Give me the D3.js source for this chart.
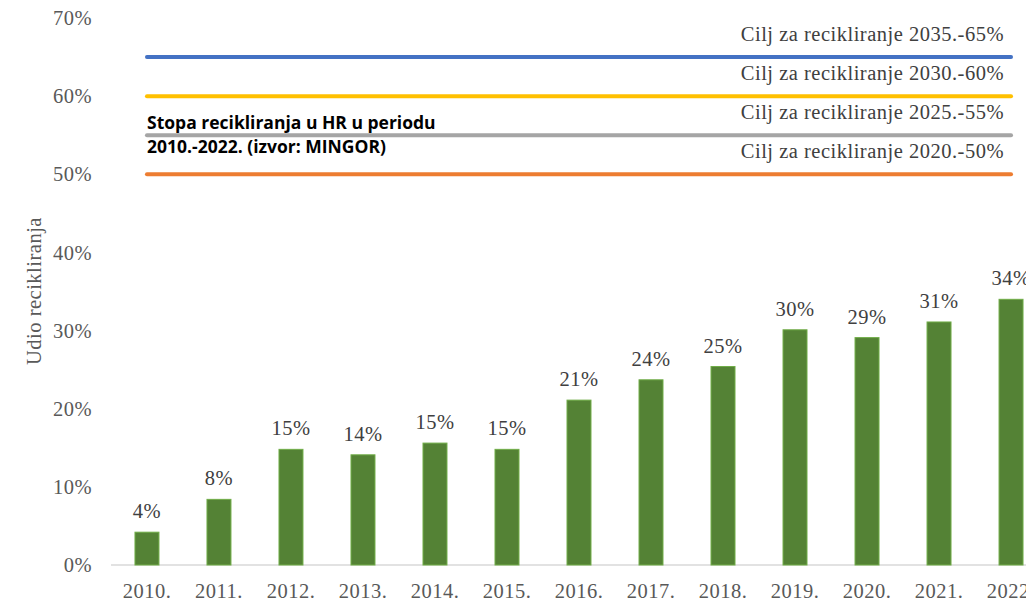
<!DOCTYPE html>
<html><head><meta charset="utf-8">
<script src="https://cdn.jsdelivr.net/npm/d3@7"></script>
<style>body{margin:0;background:#fff}svg{display:block}</style>
</head><body>
<svg id="c" width="1026" height="605"></svg>
<script>
const years = ["2010.","2011.","2012.","2013.","2014.","2015.","2016.","2017.","2018.","2019.","2020.","2021.","2022."];
const rates = [4.2, 8.4, 14.8, 14.1, 15.6, 14.8, 21.1, 23.7, 25.4, 30.1, 29.1, 31.1, 34.0];
const rateLabels = ["4%","8%","15%","14%","15%","15%","21%","24%","25%","30%","29%","31%","34%"];
const targetValues = [65, 60, 55, 50];
const targetLabels = ["Cilj za recikliranje 2035.-65%","Cilj za recikliranje 2030.-60%","Cilj za recikliranje 2025.-55%","Cilj za recikliranje 2020.-50%"];
const targetColors = ["#4472c4","#ffc000","#a5a5a5","#ed7d31"];
const yTicks = [0,10,20,30,40,50,60,70];
const titleLines = ["Stopa recikliranja u HR u periodu","2010.-2022. (izvor: MINGOR)"];
const yTitle = "Udio recikliranja";

const svg = d3.select("#c");
const serif = "'Liberation Serif','Times New Roman',serif";
const FS = 20.5, LS = "0.5px";
const x = d3.scaleBand().domain(years).range([111, 111 + 13*72]).paddingInner(0.667).paddingOuter(0.333);
const y = d3.scaleLinear().domain([0,70]).range([565,18]);

// y tick labels
svg.append("g").selectAll("text").data(yTicks).join("text")
  .attr("x", 92).attr("y", d => y(d)).attr("dy","0.35em")
  .attr("text-anchor","end").attr("font-family",serif).attr("font-size",FS).attr("letter-spacing",LS)
  .attr("fill","#595959").text(d => d + "%");

// y title
svg.append("text").attr("transform","translate(41,291) rotate(-90)")
  .attr("text-anchor","middle").attr("font-family",serif).attr("font-size",FS).attr("letter-spacing",LS)
  .attr("fill","#595959").text(yTitle);

// baseline
svg.append("line").attr("x1",111).attr("x2",1026).attr("y1",y(0)).attr("y2",y(0))
  .attr("stroke","#d9d9d9").attr("stroke-width",1.5);

// bars
svg.append("g").selectAll("rect").data(years).join("rect")
  .attr("x", d => x(d)).attr("width", x.bandwidth())
  .attr("y", (d,i) => y(rates[i])).attr("height", (d,i) => y(0) - y(rates[i]))
  .attr("fill","#548235").attr("stroke","#70ad47").attr("stroke-width",1);

// bar labels
svg.append("g").selectAll("text").data(years).join("text")
  .attr("x", d => x(d) + x.bandwidth()/2).attr("y", (d,i) => y(rates[i]) - 14)
  .attr("text-anchor","middle").attr("font-family",serif).attr("font-size",FS).attr("letter-spacing",LS)
  .attr("fill","#404040").text((d,i) => rateLabels[i]);

// x labels
svg.append("g").selectAll("text").data(years).join("text")
  .attr("x", d => x(d) + x.bandwidth()/2).attr("y", 598)
  .attr("text-anchor","middle").attr("font-family",serif).attr("font-size",FS).attr("letter-spacing",LS)
  .attr("fill","#595959").text(d => d);

// target lines
const x0 = x(years[0]) + x.bandwidth()/2, x1 = x(years[years.length-1]) + x.bandwidth()/2;
svg.append("g").selectAll("line").data(targetValues).join("line")
  .attr("x1", x0).attr("x2", x1).attr("y1", d => y(d)).attr("y2", d => y(d))
  .attr("stroke", (d,i) => targetColors[i]).attr("stroke-width",4).attr("stroke-linecap","round");
svg.append("g").selectAll("text").data(targetValues).join("text")
  .attr("x", 1004).attr("y", d => y(d) - 16)
  .attr("text-anchor","end").attr("font-family",serif).attr("font-size",FS).attr("letter-spacing",LS)
  .attr("fill","#404040").text((d,i) => targetLabels[i]);

// title
svg.append("g").selectAll("text").data(titleLines).join("text")
  .attr("x",147).attr("y",(d,i) => 129 + i*24)
  .attr("font-family","'Open Sans',Lato,sans-serif").attr("font-weight","bold").attr("font-size",17.5)
  .attr("fill","#000").text(d => d);
</script>
</body></html>
